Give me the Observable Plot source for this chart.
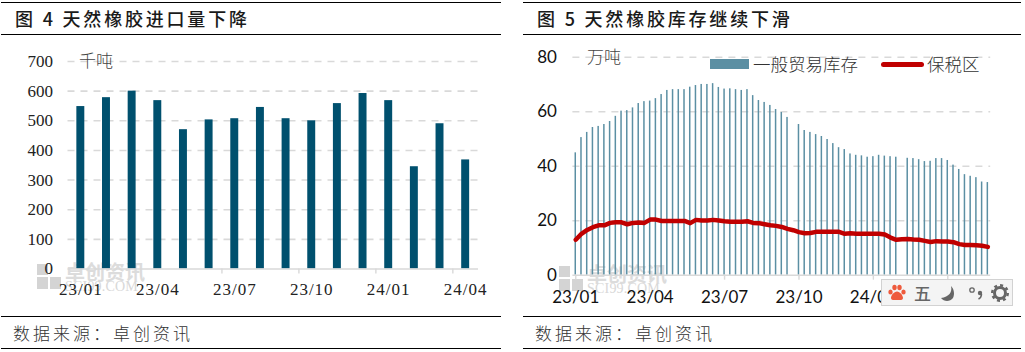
<!DOCTYPE html>
<html><head><meta charset="utf-8">
<script src="https://cdn.jsdelivr.net/npm/d3@7"></script>
<script src="https://cdn.jsdelivr.net/npm/@observablehq/plot@0.6"></script>
<style>
html,body{margin:0;padding:0;background:#fff}
#page{position:relative;width:1025px;height:352px;overflow:hidden;font-family:"Noto Sans CJK SC",sans-serif;color:#1a1a1a}
.abs{position:absolute;white-space:nowrap}
.rule{position:absolute;height:1.4px;background:#000}
.title{font-size:18px;font-weight:500;letter-spacing:2.8px;line-height:24px}
.source{font-size:17px;font-weight:300;letter-spacing:3px;line-height:24px;color:#333}
.wm{position:absolute}
.wm .sq{position:absolute;background:#d4d4d4}
.wm .t1{position:absolute;font-size:20px;font-weight:700;color:#dcdcdc;white-space:nowrap;line-height:22px;letter-spacing:0}
.wm .t2{position:absolute;font-family:"Liberation Serif",serif;font-size:14px;color:#d8d8d8;white-space:nowrap;line-height:13px;letter-spacing:.2px}
#bar{position:absolute;left:881px;top:279px;width:132px;height:27px;background:#f4f4f4;border:1px solid #d2d2d2;box-sizing:border-box}
#bar span{position:absolute;top:0;line-height:25px;color:#666;font-size:17px}
</style></head><body><div id="page"></div>
<script>
// Figure 4: monthly imports
const monthLabels = ["23/01","23/02","23/03","23/04","23/05","23/06","23/07","23/08","23/09","23/10","23/11","23/12","24/01","24/02","24/03","24/04"];
const importValues = [548,578,600,568,470,503,507,545,507,500,558,592,568,345,490,368];
const monthTickLabels = ["23/01","23/04","23/07","23/10","24/01","24/04"];
const monthEdgeTicks = ["23/07","23/10","24/01","24/04"];

// Figure 5: weekly stocks
const generalStock = [44.9,50.5,52.4,54.2,54.6,55.3,56.4,58.3,60.2,60.4,61.4,63,63.7,63.9,64.8,66.3,67.8,68.1,68.1,68.1,69,69.6,70,70,70.3,68.9,68.3,68.4,68.1,67.8,68.1,65.9,64.1,63.4,62.3,60.8,59.7,57.9,null,55.3,53.1,52.4,51.6,50.9,49.8,48.3,46.8,46.1,44.5,44,43.8,43.3,43.5,44,43.7,43.5,43.3,null,42.9,42.8,42.4,41.7,41.8,42.8,42.8,42.1,40.4,38.8,36.9,36.3,35.8,34.2,34];
const bondedStock = [13,15.2,16.6,17.6,18.3,18.3,19.2,19.4,19.4,18.7,19.2,19.3,19.2,20.4,20.4,19.9,19.9,19.9,19.9,19.9,19.1,20.3,20.1,20.1,20.3,20.1,19.8,19.6,19.6,19.6,19.8,19.2,19.1,18.7,18.3,18.1,17.7,17,16.5,15.8,15.4,15.5,15.9,15.9,15.9,15.9,15.9,15.2,15.4,15.2,15.2,15.2,15.2,15.2,14.9,13.8,13,13.2,13.3,13.1,13,12.6,12.2,12.5,12.4,12.4,12.1,11.4,11.1,11.1,11,10.8,10.4];
const weekTickIndex = [0,13,26,39,52,65];
const weekTickLabels = ["23/01","23/04","23/07","23/10","24/01","24/04"];

const page = document.getElementById("page");
const add = (cls, css, text) => { const d = document.createElement("div"); d.className = cls; d.style.cssText = css; if (text) d.textContent = text; page.appendChild(d); return d; };

// panel frames
for (const [l, w] of [[1, 500], [523, 498]]) for (const t of [2, 34, 316, 348]) add("rule", `left:${l}px;width:${w}px;top:${t}px`);
add("abs title", "left:15px;top:6px", "图 4 天然橡胶进口量下降");
add("abs title", "left:537px;top:6px", "图 5 天然橡胶库存继续下滑");
add("abs source", "left:13px;top:321px", "数据来源：卓创资讯");
add("abs source", "left:535px;top:321px", "数据来源：卓创资讯");

// watermarks
function watermark(left, top) {
  const w = add("wm", `left:${left}px;top:${top}px`);
  w.innerHTML = `<div class="sq" style="left:0;top:0;width:11px;height:11px"></div><div class="sq" style="left:0;top:13px;width:11px;height:12px"></div><div class="sq" style="left:13px;top:13px;width:11px;height:12px"></div><div class="t1" style="left:28px;top:-3px">卓创资讯</div><div class="t2" style="left:28px;top:16px">SCI99.COM</div>`;
}
watermark(37, 264);
watermark(559, 266);

const gridStyle = {stroke:"#d9d9d9", strokeWidth:1.6, strokeDasharray:"7,6", strokeOpacity:1};

// Figure 4
const importRows = monthLabels.map((m, i) => ({m, v: importValues[i]}));
const left = Plot.plot({
  width: 510, height: 280,
  marginLeft: 67.5, marginRight: 32, marginTop: 25, marginBottom: 47.5,
  x: {type:"band", domain: monthLabels, round:false, paddingInner: 0.69, paddingOuter: 0.345, align: 0.5, label:null},
  y: {domain:[0,700], ticks:[0,100,200,300,400,500,600,700], label:null},
  style: {fontFamily:'"Liberation Serif",serif', fontSize:"17px", color:"#222", background:"transparent", position:"absolute", left:"0px", top:"36px", overflow:"visible"},
  marks: [
    Plot.gridY([100,200,300,400,500,600,700], gridStyle),
    Plot.barY(importRows, {x:"m", y:"v", fill:"#00506e"}),
    Plot.ruleY([0], {stroke:"#d9d9d9", strokeWidth:1.6}),
    Plot.axisY({ticks:[0,100,200,300,400,500,600,700], tickSize:0, tickPadding:15, label:null, fontSize:17, fill:"#222"}),
    Plot.axisX({ticks:monthTickLabels, tickSize:0, tickPadding:14, label:null, fontSize:17, fill:"#222"}),
    Plot.axisX({ticks:monthEdgeTicks, tickSize:5, tickPadding:0, tickFormat:()=>"", label:null, stroke:"#d9d9d9", strokeWidth:1.4, dx:-12.83}),
    Plot.text(["千吨"], {frameAnchor:"top-left", dx:11, dy:-7, textAnchor:"start", fontFamily:'"Noto Sans CJK SC",sans-serif', fontWeight:300, fontSize:17, fill:"#444"})
  ]
});
d3.select(left).selectAll('[aria-label="x-axis tick label"] text').style("letter-spacing", "1px");
page.appendChild(left);

// Figure 5
const idx = bondedStock.map((_, i) => i);
const stockRows = idx.filter(i => generalStock[i] != null).map(i => ({i, v: generalStock[i]}));
const bondedRows = idx.map(i => ({i, v: bondedStock[i]}));
const right = Plot.plot({
  width: 513, height: 280,
  marginLeft: 60.4, marginRight: 34.8, marginTop: 20.7, marginBottom: 41.3,
  x: {type:"band", domain: idx, round:false, paddingInner: 0.74, paddingOuter: 0.37, align: 0.5, label:null},
  y: {domain:[0,80], label:null},
  style: {fontFamily:'Lato,sans-serif', fontSize:"17px", color:"#111", background:"transparent", position:"absolute", left:"512px", top:"36px", overflow:"visible"},
  marks: [
    Plot.gridY([20,40,60,80], gridStyle),
    Plot.barY(stockRows, {x:"i", y:"v", fill:"#5b8fa3"}),
    Plot.ruleY([0], {stroke:"#d9d9d9", strokeWidth:1.6}),
    Plot.line(bondedRows, {x:"i", y:"v", stroke:"#c00000", strokeWidth:4.5, curve:"linear"}),
    Plot.axisY({ticks:[0,20,40,60,80], tickSize:0, tickPadding:16, label:null, fontSize:17, fill:"#111"}),
    Plot.axisX({ticks:weekTickIndex, tickSize:5, tickPadding:11, tickFormat:i=>weekTickLabels[weekTickIndex.indexOf(i)], label:null, fontSize:17, fill:"#111", stroke:"#d9d9d9", strokeWidth:1.4}),
    Plot.text(["万吨"], {frameAnchor:"top-left", dx:14, dy:-6, textAnchor:"start", fontFamily:'"Noto Sans CJK SC",sans-serif', fontWeight:300, fontSize:17, fill:"#444"})
  ]
});
page.appendChild(right);

// legend of Figure 5
add("abs", "left:710px;top:59px;width:39px;height:10px;background:#5b8fa3");
add("abs", "left:753px;top:52px;font-size:17.5px;line-height:24px;font-weight:300;color:#333", "一般贸易库存");
add("abs", "left:881px;top:61.5px;width:43px;height:5px;border-radius:3px;background:#c00000");
add("abs", "left:927px;top:52px;font-size:17.5px;line-height:24px;font-weight:300;color:#333", "保税区");

// input-method toolbar lying over the screenshot
const bar = add("", "", "");
bar.id = "bar";
bar.innerHTML = `
<svg width="20" height="20" viewBox="0 0 20 20" style="position:absolute;left:5px;top:3px"><g fill="#ee5a3c"><ellipse cx="3.5" cy="9" rx="2.2" ry="2.6"/><ellipse cx="7.5" cy="4.5" rx="2.2" ry="2.8"/><ellipse cx="12.5" cy="4.5" rx="2.2" ry="2.8"/><ellipse cx="16.5" cy="9" rx="2.2" ry="2.6"/><path d="M10 8.5c3 0 6 4 6 6.5 0 2.5-3 2-6 2s-6 .5-6-2c0-2.5 3-6.500 6-6.500z"/></g></svg>
<span style="left:32px;font-weight:500">五</span>
<svg width="16" height="18" viewBox="0 0 16 18" style="position:absolute;left:58px;top:5px"><path d="M11 1c1.500 6-2 11-10 12 3 4 9 4 12 0 2-4 1-9-2-12z" fill="#666"/></svg>
<svg width="16" height="16" viewBox="0 0 16 16" style="position:absolute;left:86px;top:5px"><circle cx="4" cy="5" r="2.200" fill="none" stroke="#666" stroke-width="1.300"/><circle cx="12" cy="8" r="2.200" fill="#666"/><path d="M13.500 9c0 2-1 4-3 5" fill="none" stroke="#666" stroke-width="1.500"/></svg>
<svg width="20" height="20" viewBox="0 0 20 20" style="position:absolute;left:108px;top:3px"><circle cx="10" cy="10" r="5.500" fill="none" stroke="#666" stroke-width="3"/><circle cx="10" cy="10" r="7.800" fill="none" stroke="#666" stroke-width="2.400" stroke-dasharray="3,3.100"/></svg>`;
</script></body></html>
